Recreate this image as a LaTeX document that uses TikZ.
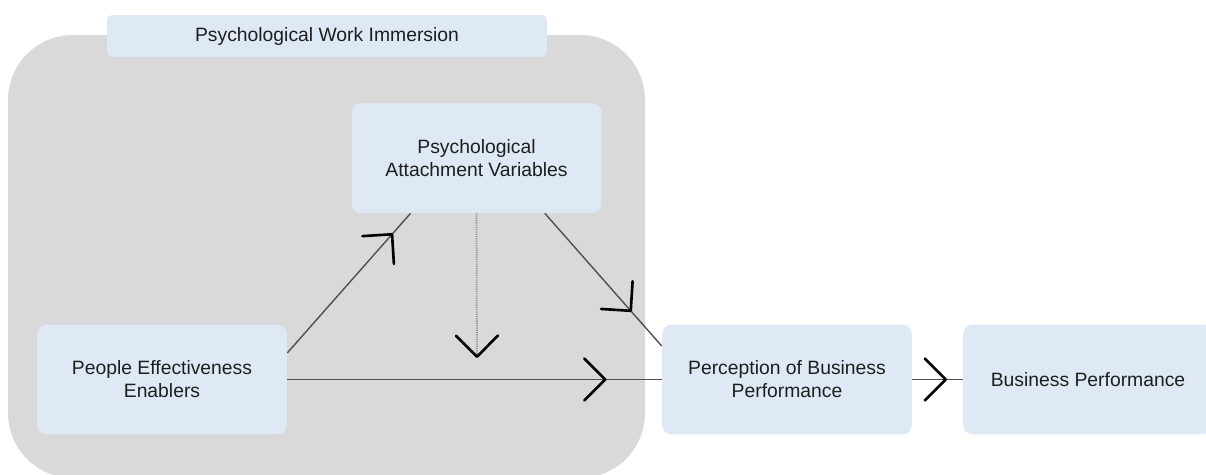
\documentclass[tikz,border=0pt]{standalone}
\usepackage{fontspec}
\setmainfont{Liberation Sans}
\usetikzlibrary{arrows.meta,decorations.markings}
\definecolor{immgray}{RGB}{217,217,217}
\definecolor{boxblue}{RGB}{222,233,245}
\definecolor{linegray}{RGB}{80,80,80}
\definecolor{txtgray}{RGB}{30,30,30}
\tikzset{chev/.tip={Straight Barb[length=0.42cm,width=0.84cm,line width=1.5pt,color=black,round]}}

\begin{document}
\begin{tikzpicture}[x=0.02cm,y=-0.02cm,
        box/.style={fill=boxblue,rounded corners=0.2cm,minimum width=5cm,
            minimum height=2.2cm,align=center,text=txtgray,inner sep=0pt,
            font=\fontsize{11}{13}\selectfont},
        link/.style={draw=linegray,line width=0.8pt},
        midarrow/.style={postaction={decorate,decoration={markings,
            mark=at position #1 with {\arrow{chev}}}}}]
    \useasboundingbox (0,0) rectangle (1206,474);
    \clip (0,0) rectangle (1206,474);
	\fill[immgray,rounded corners=1.3cm] (8,35) rectangle (645,478);

    \node[box,minimum width=8.8cm,minimum height=0.84cm,rounded corners=0.1cm]
        (title) at (327,36) {Psychological Work Immersion};
    \node[box] (pav) at (476.5,158) {Psychological\\Attachment Variables};
    \node[box] (pee) at (162,379.5) {People Effectiveness\\Enablers};
    \node[box] (perc) at (787,379.5) {Perception of Business\\Performance};
    \node[box] (bp) at (1088,379.5) {Business Performance};
    \coordinate (dotend) at (477,358);

	\draw[link,midarrow=0.86] (pee.12.5) -- (pav.-140);
	\draw[link,midarrow=0.744] (pav.-39) -- (perc.165);
	\draw[link,midarrow=0.853] (pee.east) -- (perc.west);
	\draw[link,midarrow=0.69] (perc.east) -- (bp.west);
	\draw[draw=gray!90,line width=1pt,dash pattern=on 0.6pt off 0.7pt,-chev]
        (pav.south) -- (dotend);
\end{tikzpicture}
\end{document}
